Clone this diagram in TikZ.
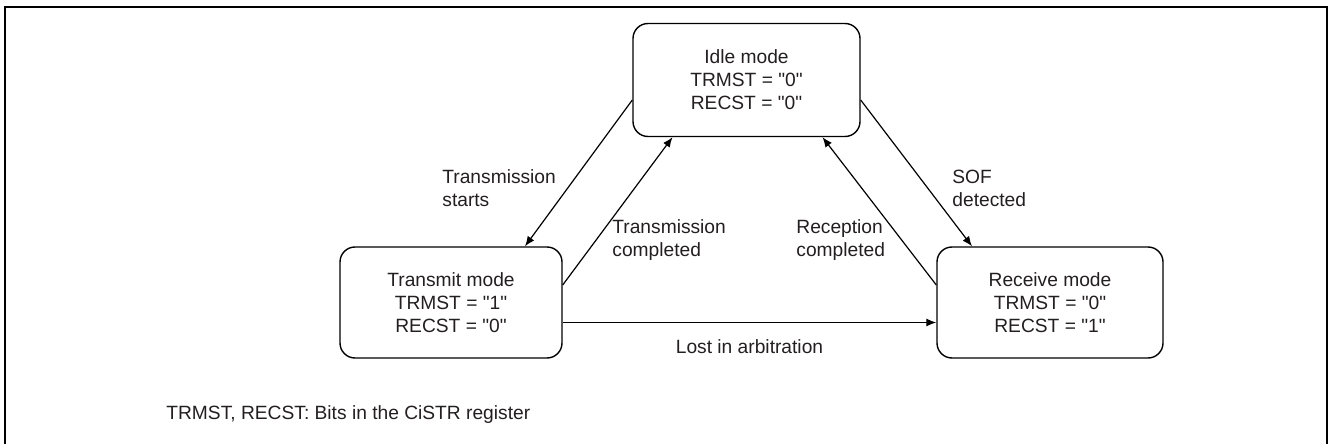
\documentclass[tikz,border=0pt]{standalone}
\usepackage{fontspec}
\setmainfont{Liberation Sans}[Ligatures=TeXOff]
\usetikzlibrary{arrows.meta}
\definecolor{txt}{RGB}{35,31,32}
\begin{document}
\begin{tikzpicture}[x=0.5pt,y=-0.5pt,
  every node/.style={text=txt},
  state/.style={draw, rounded corners=7.5pt, line width=0.7pt, align=center,
    font=\fontsize{9.6}{11.5}\selectfont, inner sep=0pt},
  lbl/.style={align=left, anchor=west, inner sep=0pt, font=\fontsize{9.6}{11.5}\selectfont},
  conn/.style={line width=0.6pt, -{Latex[length=5pt,width=4pt]}}
]
\useasboundingbox (0,0) rectangle (1330,444);
\draw[line width=1.4pt] (5,444) -- (5,7) -- (1327,7) -- (1327,444);

\node[state, minimum width=113.5pt, minimum height=56.5pt] (idle) at (746.5,80)
  {Idle mode\\TRMST = "0"\\RECST = "0"};
\node[state, minimum width=111pt, minimum height=55.5pt] (tx) at (451,302.5)
  {Transmit mode\\TRMST = "1"\\RECST = "0"};
\node[state, minimum width=113pt, minimum height=55.5pt] (rx) at (1050,302.5)
  {Receive mode\\TRMST = "0"\\RECST = "1"};

\draw[conn] ([yshift=-10pt]idle.west) -- ([xshift=37pt]tx.north);
\draw[conn] ([yshift=8.75pt]tx.east) -- ([xshift=-37pt]idle.south);
\draw[conn] ([yshift=-10pt]idle.east) -- ([xshift=-39pt]rx.north);
\draw[conn] ([yshift=8.75pt]rx.west) -- ([xshift=38pt]idle.south);
\draw[conn] ([yshift=-10pt]tx.east) -- node[below=5pt, font=\fontsize{9.6}{11.5}\selectfont] (lost) {Lost in arbitration} ([yshift=-10pt]rx.west);

\node[lbl] (ts) at (442,188) {Transmission\\starts};
\node[lbl] (tc) at (612,240) {Transmission\\completed};
\node[lbl] (rc) at (796,240) {Reception\\completed};
\node[lbl] (sof) at (952,188) {SOF\\detected};
\node[lbl] (foot) at (166,415) {TRMST, RECST: Bits in the CiSTR register};
\end{tikzpicture}
\end{document}
